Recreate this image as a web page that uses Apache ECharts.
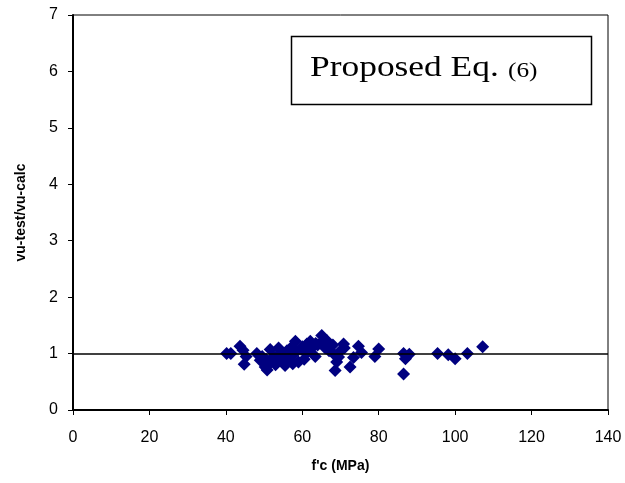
<!DOCTYPE html>
<html><head><meta charset="utf-8">
<script src="https://cdn.jsdelivr.net/npm/echarts@6/dist/echarts.min.js"></script>
<style>html,body{margin:0;padding:0;background:#fff}#c{width:625px;height:483px}</style>
</head><body><div id="c"></div>
<script>
const fc = [40.2,41.3,43.7,44.5,44.8,45.3,48.1,49.0,49.5,50.3,50.8,50.5,51.6,51.9,52.5,53.0,53.8,54.0,54.5,55.0,55.5,56.0,56.5,57.0,57.3,57.5,58.0,58.2,59.0,59.5,60.0,60.5,61.0,61.2,62.1,62.5,63.4,63.5,64.0,65.0,65.1,66.0,66.4,67.0,67.3,68.0,68.1,68.6,69.0,69.5,70.0,70.8,71.0,72.5,73.4,74.7,75.5,79.0,80.0,86.5,87.0,86.5,88.0,95.4,98.2,100.0,103.2,107.2];
const ratio = [1.0,1.0,1.13,1.06,0.81,0.95,1.0,0.88,0.95,0.76,0.71,0.9,1.07,0.85,0.95,0.8,1.1,1.0,0.9,0.95,0.79,1.05,0.95,0.88,1.12,0.82,1.0,1.22,0.85,1.08,1.12,0.9,1.0,1.17,1.22,1.1,0.95,1.18,1.15,1.2,1.32,1.1,1.23,1.05,1.12,1.15,1.0,0.7,0.85,0.94,1.05,1.17,1.1,0.76,0.93,1.13,1.02,0.95,1.08,1.0,0.91,0.64,0.99,1.0,0.98,0.91,1.0,1.12];
const xTicks = [0,20,40,60,80,100,120,140];
const yTicks = [0,1,2,3,4,5,6,7];
const refValue = 1;

const chart = echarts.init(document.getElementById('c'));
const lbl = {fontFamily:'Liberation Sans, Arial', fontSize:16, color:'#000'};
const nameStyle = {fontFamily:'Liberation Sans, Arial',fontSize:14,fontWeight:'bold',color:'#000'};
chart.setOption({
  animation:false,
  grid:{left:73,right:17,top:15,bottom:73,show:true,borderColor:'#000',borderWidth:1},
  xAxis:{type:'value',min:xTicks[0],max:xTicks[xTicks.length-1],interval:20,
    name:"f'c (MPa)",nameLocation:'middle',nameGap:49,nameTextStyle:nameStyle,
    axisLine:{show:true,onZero:false,lineStyle:{color:'#000',width:2}},
    axisTick:{show:true,inside:false,length:5,lineStyle:{color:'#000'}},
    axisLabel:Object.assign({margin:20},lbl),splitLine:{show:false}},
  yAxis:{type:'value',min:yTicks[0],max:yTicks[yTicks.length-1],interval:1,
    name:'vu-test/vu-calc',nameLocation:'middle',nameGap:45,nameTextStyle:nameStyle,
    axisLine:{show:true,onZero:false,lineStyle:{color:'#000',width:2}},
    axisTick:{show:true,inside:false,length:5,lineStyle:{color:'#000'}},
    axisLabel:Object.assign({margin:15},lbl),splitLine:{show:false}},
  series:[{type:'scatter',symbol:'diamond',symbolSize:13,
    itemStyle:{color:'#000080',opacity:1},
    data:fc.map((x,i)=>[x,ratio[i]]),
    markLine:{silent:true,symbol:'none',label:{show:false},
      lineStyle:{color:'#000',width:1.5,type:'solid'},
      data:[{yAxis:refValue}]},
    z:3}],
  graphic:[{type:'rect',shape:{x:291.5,y:36.5,width:300,height:68},
    style:{fill:'#fff',stroke:'#000',lineWidth:1.5},z:10},
    {type:'text',x:310,y:68,scaleX:1.18,z:11,style:{x:0,y:0,text:'Proposed Eq.',verticalAlign:'middle',
      font:'30px "Liberation Serif", "Times New Roman", serif',fill:'#000'}},
    {type:'text',x:508,y:71,scaleX:1.15,z:11,style:{x:0,y:0,text:'(6)',verticalAlign:'middle',
      font:'22px "Liberation Serif", "Times New Roman", serif',fill:'#000'}}]
});
</script></body></html>
